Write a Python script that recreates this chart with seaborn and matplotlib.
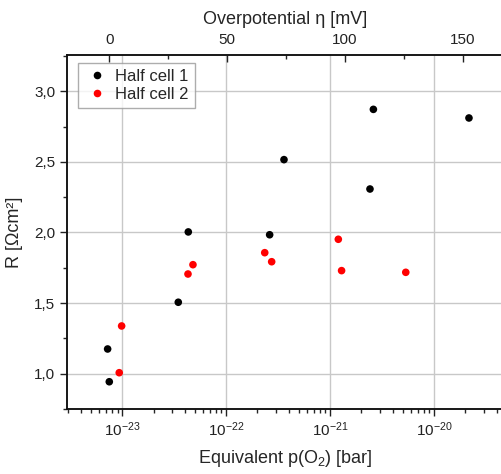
import numpy as np
import pandas as pd
import matplotlib
matplotlib.use("Agg")
import matplotlib.pyplot as plt
import matplotlib.ticker as mticker
import seaborn as sns

# Equivalent oxygen partial pressure [bar] and polarisation resistance [Ohm cm^2]
p_o2_cell1 = [7.50e-24, 7.23e-24, 3.46e-23, 4.32e-23, 2.62e-22, 3.60e-22, 2.42e-21, 2.61e-21, 2.17e-20]
r_cell1 = [0.943, 1.175, 1.506, 2.004, 1.984, 2.516, 2.308, 2.872, 2.811]

p_o2_cell2 = [9.35e-24, 9.86e-24, 4.29e-23, 4.79e-23, 2.35e-22, 2.74e-22, 1.20e-21, 1.29e-21, 5.35e-21]
r_cell2 = [1.007, 1.338, 1.706, 1.772, 1.857, 1.793, 1.952, 1.730, 1.718]

series_names = ["Half cell 1", "Half cell 2"]
series_colors = ["#000000", "#ff0000"]

y_ticks = [1.0, 1.5, 2.0, 2.5, 3.0]
x_decades = [-23, -22, -21, -20]
eta_ticks = [0, 50, 100, 150]

df = pd.DataFrame({
    "pO2": p_o2_cell1 + p_o2_cell2,
    "R": r_cell1 + r_cell2,
    "cell": [series_names[0]] * len(p_o2_cell1) + [series_names[1]] * len(p_o2_cell2),
})

sns.set_theme(style="ticks")
plt.rcParams["font.family"] = ["Liberation Sans", "DejaVu Sans"]
plt.rcParams["mathtext.fontset"] = "custom"
plt.rcParams["mathtext.rm"] = "Liberation Sans"
plt.rcParams["mathtext.it"] = "Liberation Sans:italic"
plt.rcParams["mathtext.default"] = "regular"

fig = plt.figure(figsize=(5.02, 4.74), dpi=100)
ax = fig.add_axes([67.3 / 502, (474 - 409) / 474, (503 - 67.3) / 502, (409 - 55) / 474])

ax.set_xscale("log")
log_lo, log_hi = -23.529, -19.336
ax.set_xlim(10 ** log_lo, 10 ** log_hi)
ax.set_ylim(0.75, 3.257)

ax.grid(True, which="major", color="#c8c8c8", linewidth=1.0)
ax.set_axisbelow(True)

sns.scatterplot(data=df, x="pO2", y="R", hue="cell", palette=series_colors,
                hue_order=series_names, s=30, edgecolor="none", ax=ax, zorder=3)

ax.set_yticks(y_ticks)
ax.yaxis.set_minor_locator(mticker.MultipleLocator(0.25))
ax.yaxis.set_major_formatter(mticker.FuncFormatter(lambda v, _: f"{v:.1f}".replace(".", ",")))

# Decade ticks and 2..9 minor ticks, restricted to the visible range
major_x = [10.0 ** d for d in x_decades]
minor_x = [m * 10.0 ** d for d in range(-24, -19) for m in range(2, 10)
           if 10 ** log_lo <= m * 10.0 ** d <= 10 ** log_hi]
ax.xaxis.set_major_locator(mticker.FixedLocator(major_x))
ax.xaxis.set_major_formatter(mticker.FuncFormatter(
    lambda v, _: f"$10^{{{int(round(np.log10(v)))}}}$"))
ax.xaxis.set_minor_locator(mticker.FixedLocator(minor_x))
ax.xaxis.set_minor_formatter(mticker.NullFormatter())

ax.tick_params(axis="both", which="major", direction="out", length=5, width=1.0,
               labelsize=11, colors="#222222")
ax.tick_params(axis="both", which="minor", direction="out", length=3, width=1.0)

for side in ["left", "bottom", "top", "right"]:
    ax.spines[side].set_linewidth(1.1)
    ax.spines[side].set_color("#111111")

ax.set_xlabel("Equivalent p(O$_2$) [bar]", fontsize=13, labelpad=6)
ax.set_ylabel("R [Ωcm²]", fontsize=13, labelpad=8)

# Overpotential scale on the top axis (linear in log p(O2))
slope = 44.1
eta_zero = -23.125
ax_top = ax.twiny()
ax_top.set_xlim(slope * (log_lo - eta_zero), slope * (log_hi - eta_zero))
ax_top.xaxis.set_major_locator(mticker.FixedLocator(eta_ticks))
ax_top.xaxis.set_minor_locator(mticker.FixedLocator([25, 75, 125]))
ax_top.tick_params(axis="x", which="major", direction="in", length=5, width=1.0,
                   labelsize=11, pad=6, colors="#222222")
ax_top.tick_params(axis="x", which="minor", direction="in", length=3, width=1.0)
ax_top.set_xlabel("Overpotential η [mV]", fontsize=13, labelpad=6)
for side in ["left", "bottom", "top", "right"]:
    ax_top.spines[side].set_linewidth(1.1)
    ax_top.spines[side].set_color("#111111")

handles, labels = ax.get_legend_handles_labels()
leg = ax.legend(handles, labels, loc="upper left", bbox_to_anchor=(0.024, 0.977),
                borderaxespad=0, frameon=True, fancybox=False, fontsize=12,
                handletextpad=0.3, borderpad=0.35, labelspacing=0.2,
                markerscale=1.0, handlelength=1.6)
leg.get_frame().set_edgecolor("#999999")
leg.get_frame().set_linewidth(1.0)

fig.savefig("out.png", dpi=100)
